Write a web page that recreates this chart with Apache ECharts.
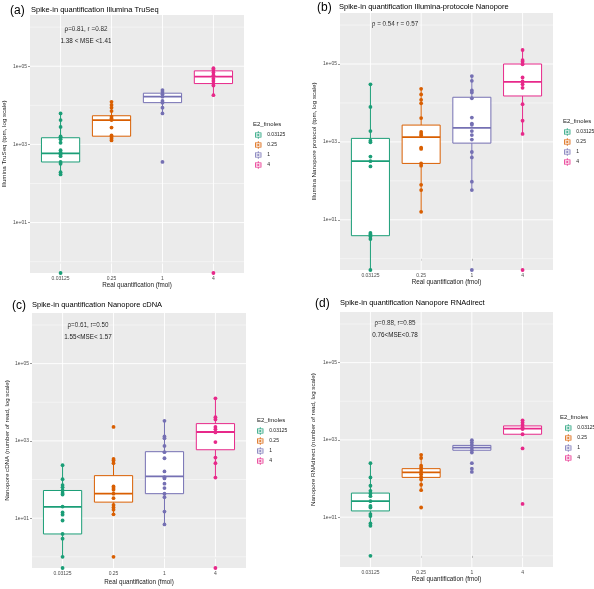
<!DOCTYPE html>
<html>
<head>
<meta charset="utf-8">
<script src="https://cdn.jsdelivr.net/npm/echarts@6/dist/echarts.min.js"></script>
<style>
html, body { margin: 0; padding: 0; background: #fff; }
#chart { width: 594px; height: 589px; }
</style>
</head>
<body>
<div id="chart"></div>
<script>
var categories = ['0.03125', '0.25', '1', '4'];
var colors = ['#1B9E77', '#D95F02', '#7570B3', '#E7298A'];

// (a) Illumina TruSeq, tpm. 0 = not detected (drawn on the bottom edge)
var truseqPoints = [
    [6200, 4200, 2800, 1600, 1500, 1350, 1100, 710, 620, 550, 500, 355, 320, 195, 170, 0],
    [12300, 10200, 8700, 7100, 5100, 4600, 4200, 2700, 1700, 1550, 1400, 1260],
    [24500, 21900, 19100, 16600, 12900, 11700, 8700, 6200, 355],
    [89000, 81000, 69000, 59000, 48000, 42000, 36000, 32000, 18200, 0]
];
// whisker low, Q1, median, Q3, whisker high
var truseqBoxes = [
    [170, 355, 590, 1480, 6200],
    [1260, 1620, 4200, 5400, 12300],
    [6200, 11700, 16600, 20400, 25700],
    [18200, 36000, 54000, 76000, 93000]
];

// (b) Illumina-protocole Nanopore, tpm
var illuNanoPoints = [
    [30000, 7900, 1900, 1070, 980, 420, 320, 235, 4.6, 4.2, 3.7, 3.2, 0],
    [23000, 16600, 12000, 9800, 4100, 1800, 1600, 1450, 710, 660, 280, 245, 79, 58, 16],
    [49000, 37000, 21000, 18600, 13200, 4200, 2950, 2750, 1900, 1500, 1150, 550, 400, 95, 58, 0],
    [229000, 126000, 115000, 98000, 45000, 35500, 30000, 24500, 9300, 3500, 1600, 0]
];
var illuNanoBoxes = [
    [0, 3.9, 320, 1230, 30000],
    [16, 280, 1320, 2700, 23000],
    [58, 930, 2300, 14000, 49000],
    [1600, 15100, 34700, 100000, 229000]
];

// (c) Nanopore cDNA, number of reads
var cdnaPoints = [
    [235, 102, 72, 63, 52, 45, 41, 20, 14, 12.3, 8.7, 3.9, 2.95, 1.0, 0],
    [2300, 340, 310, 265, 66, 60, 54, 43, 33, 22, 19, 16.6, 12.6, 1.0],
    [3300, 1300, 1170, 740, 510, 355, 162, 115, 107, 78, 60, 43, 35, 14.8, 6.9],
    [12600, 4100, 3600, 2300, 2000, 1660, 930, 370, 265, 112, 0]
];
var cdnaBoxes = [
    [1.0, 3.9, 19.5, 52, 235],
    [12.6, 26, 43, 126, 265],
    [6.9, 43, 120, 525, 3300],
    [112, 590, 1700, 2800, 12600]
];

// (d) Nanopore RNAdirect, number of reads
var rnaPoints = [
    [250, 107, 65, 48, 41, 35, 26, 19.5, 17.8, 12, 10.7, 6.9, 6.0, 1.0],
    [410, 340, 215, 190, 165, 145, 129, 110, 95, 69, 50, 17.8],
    [980, 850, 740, 630, 540, 470, 250, 180, 148],
    [3200, 2800, 2450, 2100, 1900, 1400, 600, 22]
];
var rnaBoxes = [
    [6.0, 14.5, 26, 42, 250],
    [50, 107, 145, 180, 410],
    [470, 540, 630, 720, 1000],
    [1400, 1400, 1950, 2300, 3200]
];

var yTicks = [1, 3, 5];          // 1e+01, 1e+03, 1e+05
var yMinor = [0, 2, 4, 6];
var Y_MIN = -0.29, Y_MAX = 6.31;
var FONT = '"Liberation Sans", Arial, sans-serif';

var panels = [
    {
        tag: '(a)', title: 'Spike-in quantification Illumina TruSeq',
        yName: 'Illumina TruSeq (tpm, log scale)',
        points: truseqPoints, boxes: truseqBoxes,
        stats: ['\u03c1=0.81, r =0.82', '1.38 < MSE <1.41'],
        grid: { left: 30, top: 15, width: 214, height: 258 },
        tagPos: [10, 11], titlePos: [31, 10], statPos: [86, 29],
        yGap: 23, xGap: 9, legendPos: [255, 131], legendTitle: [253, 124]
    },
    {
        tag: '(b)', title: 'Spike-in quantification Illumina-protocole Nanopore',
        yName: 'Illumina Nanopore protocol (tpm, log scale)',
        points: illuNanoPoints, boxes: illuNanoBoxes,
        stats: ['\u03c1 = 0.54 r = 0.57'],
        grid: { left: 340, top: 13, width: 213, height: 257 },
        tagPos: [317, 8], titlePos: [339, 7], statPos: [395, 24],
        yGap: 23, xGap: 9, legendPos: [564, 128], legendTitle: [563, 121]
    },
    {
        tag: '(c)', title: 'Spike-in quantification Nanopore cDNA',
        yName: 'Nanopore cDNA (number of read, log scale)',
        points: cdnaPoints, boxes: cdnaBoxes,
        stats: ['\u03c1=0.61, r=0.50', '1.55<MSE< 1.57'],
        grid: { left: 32, top: 313, width: 214, height: 255 },
        tagPos: [12, 306], titlePos: [32, 305], statPos: [88, 325],
        yGap: 22, xGap: 11, legendPos: [257, 427], legendTitle: [257, 420]
    },
    {
        tag: '(d)', title: 'Spike-in quantification Nanopore RNAdirect',
        yName: 'Nanopore RNAdirect (number of read, log scale)',
        points: rnaPoints, boxes: rnaBoxes,
        stats: ['\u03c1=0.88, r=0.85', '0.76<MSE<0.78'],
        grid: { left: 340, top: 312, width: 213, height: 255 },
        tagPos: [315, 304], titlePos: [340, 303], statPos: [395, 323],
        yGap: 24, xGap: 9, legendPos: [565, 424], legendTitle: [560, 417]
    }
];

// boxplot key: outlined box, median bar, whiskers, centre dot
var KEY_ICON = 'path://M1,2H9V8H1Z M1.9,2.9V7.1H8.1V2.9Z M1.9,4.6H8.1V5.4H1.9Z M4.6,0H5.4V2H4.6Z M4.6,8H5.4V10H4.6Z M4,4H6V6H4Z';

function toLog(v) {
    return v > 0 ? Math.log10(v) : Y_MIN;
}

function renderGridLine(params, api) {
    var cs = params.coordSys;
    var v = api.value(0), dir = api.value(1), major = api.value(2);
    var w = major ? 0.9 : 0.45;
    if (dir === 0) {
        var y = api.coord([1, v])[1];
        return { type: 'line', shape: { x1: cs.x, y1: y, x2: cs.x + cs.width, y2: y },
                 style: { stroke: '#ffffff', lineWidth: w } };
    }
    var x = api.coord([v, 0])[0];
    return { type: 'line', shape: { x1: x, y1: cs.y, x2: x, y2: cs.y + cs.height },
             style: { stroke: '#ffffff', lineWidth: w } };
}

function renderBox(params, api) {
    var color = colors[params.dataIndex];
    var x = api.value(0);
    var lo = api.coord([x, api.value(1)]);
    var q1 = api.coord([x, api.value(2)]);
    var med = api.coord([x, api.value(3)]);
    var q3 = api.coord([x, api.value(4)]);
    var hi = api.coord([x, api.value(5)]);
    var half = api.size([0.75, 0])[0] / 2;
    var cx = lo[0];
    var st = { stroke: color, lineWidth: 1 };
    return {
        type: 'group',
        children: [
            { type: 'line', shape: { x1: cx, y1: lo[1], x2: cx, y2: q1[1] }, style: st },
            { type: 'line', shape: { x1: cx, y1: q3[1], x2: cx, y2: hi[1] }, style: st },
            { type: 'rect', shape: { x: cx - half, y: q3[1], width: half * 2, height: q1[1] - q3[1] },
              style: { fill: '#ffffff', stroke: color, lineWidth: 1 } },
            { type: 'line', shape: { x1: cx - half, y1: med[1], x2: cx + half, y2: med[1] },
              style: { stroke: color, lineWidth: 1.8 } }
        ]
    };
}

var grids = [], xAxes = [], yAxes = [], series = [], legends = [], graphics = [];

var gridLineData = [];
yTicks.forEach(function (v) { gridLineData.push([v, 0, 1]); });
yMinor.forEach(function (v) { gridLineData.push([v, 0, 0]); });
[1, 2, 3, 4].forEach(function (v) { gridLineData.push([v, 1, 1]); });

panels.forEach(function (p, i) {
    grids.push({
        left: p.grid.left, top: p.grid.top, width: p.grid.width, height: p.grid.height,
        show: true, backgroundColor: '#EBEBEB', borderWidth: 0
    });
    xAxes.push({
        gridIndex: i, type: 'value', min: 0.4, max: 4.6,
        name: 'Real quantification (fmol)', nameLocation: 'middle', nameGap: p.xGap,
        nameTextStyle: { fontSize: 6.3, color: '#1a1a1a', fontFamily: FONT },
        axisLine: { show: false },
        axisTick: { show: true, length: 2, customValues: [1, 2, 3, 4], lineStyle: { color: '#333', width: 0.5 } },
        axisLabel: {
            customValues: [1, 2, 3, 4], margin: 3, fontSize: 5, color: '#4D4D4D', fontFamily: FONT,
            formatter: function (v) { return categories[Math.round(v) - 1]; }
        },
        splitLine: { show: false }
    });
    yAxes.push({
        gridIndex: i, type: 'value', min: Y_MIN, max: Y_MAX,
        name: p.yName, nameLocation: 'middle', nameGap: p.yGap, nameRotate: 90,
        nameTextStyle: { fontSize: 6.2, color: '#1a1a1a', fontFamily: FONT },
        axisLine: { show: false },
        axisTick: { show: true, length: 2, customValues: yTicks, lineStyle: { color: '#333', width: 0.5 } },
        axisLabel: {
            customValues: yTicks, margin: 3, fontSize: 5, color: '#4D4D4D', fontFamily: FONT,
            formatter: function (v) { return '1e+' + (v < 10 ? '0' : '') + Math.round(v); }
        },
        splitLine: { show: false }
    });

    series.push({
        type: 'custom', xAxisIndex: i, yAxisIndex: i, z: 1, silent: true,
        renderItem: renderGridLine, data: gridLineData
    });
    series.push({
        type: 'custom', xAxisIndex: i, yAxisIndex: i, z: 2, silent: true,
        renderItem: renderBox,
        encode: { x: 0, y: [1, 2, 3, 4, 5] },
        data: p.boxes.map(function (b, k) {
            return [k + 1].concat(b.map(toLog));
        })
    });
    p.points.forEach(function (vals, k) {
        series.push({
            type: 'scatter', name: categories[k], xAxisIndex: i, yAxisIndex: i, z: 3,
            symbolSize: 3.8, clip: false,
            itemStyle: { color: colors[k], opacity: 1 },
            data: vals.map(function (v) { return [k + 1, toLog(v)]; })
        });
    });

    legends.push({
        left: p.legendPos[0], top: p.legendPos[1], orient: 'vertical',
        itemWidth: 8, itemHeight: 8, itemGap: 2, padding: 0, selectedMode: false,
        textStyle: { fontSize: 5, color: '#1a1a1a', fontFamily: FONT },
        data: categories.map(function (c, k) {
            return { name: c, icon: KEY_ICON, itemStyle: { color: colors[k], borderWidth: 0 } };
        })
    });

    graphics.push({
        type: 'text', x: p.tagPos[0], y: p.tagPos[1],
        style: { text: p.tag, fontSize: 12, fontFamily: FONT, fill: '#000', verticalAlign: 'middle' }
    });
    graphics.push({
        type: 'text', x: p.titlePos[0], y: p.titlePos[1],
        style: { text: p.title, fontSize: 7.5, fontFamily: FONT, fill: '#000', verticalAlign: 'middle' }
    });
    p.stats.forEach(function (s, k) {
        graphics.push({
            type: 'text', x: p.statPos[0], y: p.statPos[1] + k * 12,
            style: { text: s, fontSize: 6.3, fontFamily: FONT, fill: '#1a1a1a', align: 'center', verticalAlign: 'middle' }
        });
    });
    graphics.push({
        type: 'text', x: p.legendTitle[0], y: p.legendTitle[1],
        style: { text: 'E2_fmoles', fontSize: 6, fontFamily: FONT, fill: '#1a1a1a', verticalAlign: 'middle' }
    });
});

var chart = echarts.init(document.getElementById('chart'));
chart.setOption({
    animation: false,
    backgroundColor: '#ffffff',
    grid: grids,
    xAxis: xAxes,
    yAxis: yAxes,
    legend: legends,
    graphic: graphics,
    series: series
});
</script>
</body>
</html>
